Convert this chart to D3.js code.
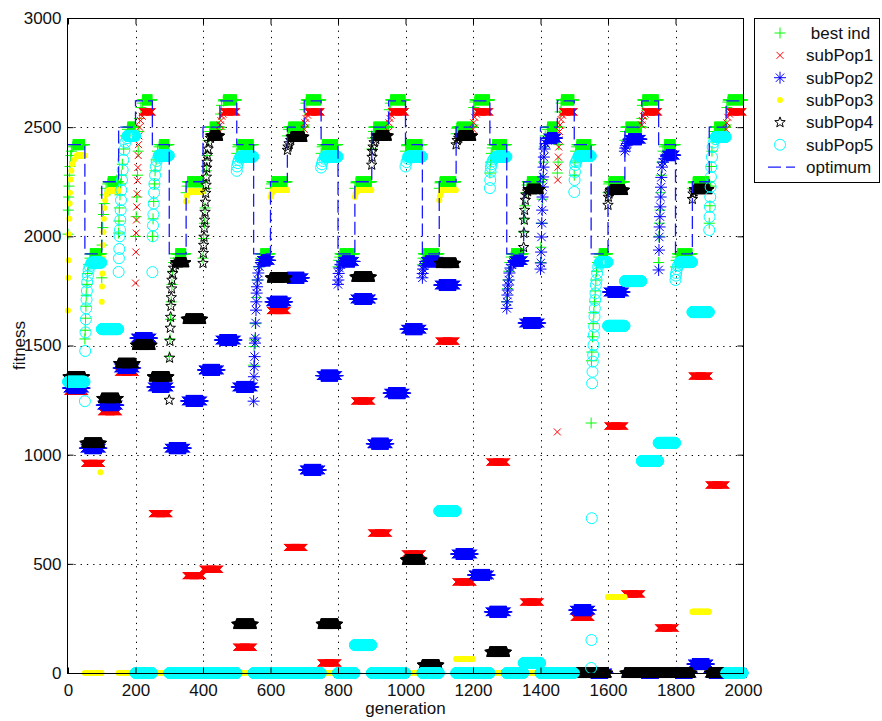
<!DOCTYPE html>
<html>
<head>
<meta charset="utf-8">
<script src="https://cdn.jsdelivr.net/npm/d3@7"></script>
<style>
  body { margin: 0; background: #fff; }
  text { font-family: "Liberation Sans", Arial, sans-serif; fill: #111; }
</style>
</head>
<body>
<div id="chart"></div>
<script>
// one entry per period of 50 generations
const periods = [0,50,100,150,200,250,300,350,400,450,500,550,600,650,700,750,800,850,900,950,
  1000,1050,1100,1150,1200,1250,1300,1350,1400,1450,1500,1550,1600,1650,1700,1750,1800,1850,1900,1950];

const optimum = [2420,1920,2250,2500,2620, 2420,1920,2250,2500,2620, 2420,1920,2250,2500,2620, 2420,1920,2250,2500,2620,
  2420,1920,2250,2500,2620, 2420,1920,2250,2500,2620, 2420,1920,2250,2500,2620, 2420,1920,2250,2500,2620];

// level each series settles at in every period
const bestLevel = [2420,1920,2250,2500,2625, 2420,1920,2250,2500,2625, 2420,1920,2250,2500,2625, 2420,1920,2250,2500,2625,
  2420,1920,2250,2500,2625, 2420,1920,2250,2500,2625, 2420,1920,2250,2500,2625, 2420,1920,2250,2500,2625];
const subPop1Level = [1290,960,1197,1378,2570, 730,0,446,475,2570, 118,0,1660,575,2570, 46,0,1246,641,2570,
  545,0,1520,417,2570, 966,0,325,0,2570, 255,0,1131,362,2570, 206,0,1360,861,2570];
const subPop2Level = [1305,1030,1227,1397,1534, 1310,1030,1246,1388,1525, 1310,1890,1700,1810,930, 1362,1885,1713,1050,1282,
  1575,1885,1777,545,449, 280,1888,1603,2450,0, 288,0,1745,2445,0, 2372,0,41,0,0];
const subPop3Level = [2370,0,2210,0,0, 0,0,2205,0,0, 0,0,2212,0,0, 0,0,2212,0,0,
  0,0,2212,64,0, 0,0,0,0,0, 0,0,348,0,0, 0,0,281,0,0];
const subPop4Level = [1357,1053,1258,1418,1502, 1357,1880,1621,2460,0, 224,0,1810,2455,0, 224,0,1814,2460,0,
  518,37,1877,2460,0, 96,0,2215,0,0, 0,0,2212,0,0, 0,0,2215,0,0];
const subPop5Level = [1334,1880,1575,2460,0, 2370,0,0,0,0, 2365,0,0,0,0, 2365,0,128,0,0,
  2365,0,742,0,0, 2365,0,46,0,0, 2368,1882,1590,1795,971, 1054,1882,1653,2455,0];

const bestClimb = [
  [0,2010],[1,2120],[2,2180],[3,2230],[4,2280],[6,2320],[8,2370],[10,2390],[14,2410],
  [50,1530],[51,1570],[52,1625],[53,1680],[54,1730],[56,1780],[58,1830],[61,1870],[65,1900],
  [100,1810],[101,1960],[103,2040],[105,2100],[107,2150],[110,2190],[113,2220],[118,2240],
  [150,2015],[151,2070],[152,2130],[154,2190],[156,2240],[158,2280],[161,2330],[165,2400],[170,2460],[176,2490],
  [200,2000],[202,2090],[204,2180],[206,2280],[208,2390],[210,2480],[212,2540],[216,2590],[220,2610],
  [250,2000],[252,2080],[254,2160],[256,2240],[258,2300],[261,2350],[265,2390],[270,2410],
  [300,1450],[302,1530],[304,1620],[306,1700],[308,1780],[310,1840],[313,1880],[318,1900],
  [350,2200],[353,2230],
  [400,1900],[402,1990],[404,2060],[406,2130],[408,2220],[410,2300],[412,2370],[415,2440],[420,2480],
  [450,2490],[452,2560],[455,2600],[460,2620],
  [500,2380],[503,2410],
  [550,1410],[551,1495],[552,1525],[555,1600],[558,1720],[561,1800],[565,1860],[570,1900],
  [600,2220],[603,2240],
  [650,2460],[653,2490],
  [700,2510],[702,2580],[705,2610],
  [750,2380],[753,2410],
  [800,1860],[802,1890],[805,1905],
  [850,2220],[853,2245],
  [900,2400],[902,2450],[905,2480],
  [950,2500],[952,2580],[955,2610],
  [1000,2390],[1003,2415],
  [1050,1870],[1052,1900],
  [1100,2220],[1102,2245],
  [1150,2470],[1152,2495],
  [1200,2510],[1202,2590],[1205,2615],
  [1250,2290],[1252,2340],[1254,2380],[1257,2405],
  [1300,1700],[1302,1760],[1304,1800],[1306,1840],[1309,1880],[1313,1905],
  [1350,2020],[1352,2080],[1354,2140],[1357,2200],[1360,2235],
  [1400,1880],[1401,1950],[1403,2060],[1405,2170],[1407,2260],[1409,2340],[1411,2410],[1414,2460],[1420,2490],
  [1450,2290],[1452,2340],[1454,2420],[1456,2500],[1458,2570],[1461,2610],
  [1500,2280],[1502,2340],[1504,2390],[1507,2410],
  [1550,1145],[1551,1430],[1552,1470],[1554,1540],[1556,1600],[1558,1650],[1560,1700],[1562,1750],[1564,1800],[1566,1840],[1569,1880],[1573,1905],
  [1600,2200],[1602,2240],
  [1650,2440],[1652,2480],
  [1700,2540],[1702,2600],
  [1750,1880],[1751,2000],[1752,2060],[1754,2120],[1756,2200],[1758,2280],[1760,2340],[1763,2390],[1767,2410],
  [1800,1860],[1802,1890],[1805,1905],
  [1850,2220],[1852,2245],
  [1900,2060],[1902,2140],[1904,2230],[1906,2320],[1908,2390],[1911,2450],[1915,2480],
  [1950,2510],[1952,2590],[1955,2615]
];
const subPop1Climb = [
  [200,1786],[201,1928],[202,2015],[203,2075],[204,2135],[205,2195],[206,2255],[207,2315],[208,2370],[209,2420],[210,2460],[212,2500],[215,2530],[220,2550],
  [450,2480],[451,2510],[453,2530],[456,2550],[460,2560],
  [700,2490],[702,2520],[705,2540],[710,2555],
  [950,2480],[951,2520],[954,2540],[958,2555],
  [1200,2490],[1202,2520],[1205,2545],[1210,2560],
  [1450,1104],[1451,2258],[1452,2317],[1453,2363],[1454,2409],[1455,2441],[1456,2480],[1458,2510],[1461,2535],[1465,2555],
  [1700,2510],[1702,2530],[1705,2550],[1710,2560],
  [1950,2490],[1952,2520],[1955,2545],[1960,2560]
];
const subPop2Climb = [
  [550,1245],[551,1357],[552,1403],[553,1449],[554,1511],[555,1534],[556,1603],[557,1662],[558,1700],[559,1740],[560,1769],[562,1800],[564,1832],[567,1861],[572,1880],
  [800,1780],[801,1800],[802,1830],[804,1855],[807,1870],[812,1878],
  [1050,1810],[1051,1830],[1052,1850],[1054,1865],[1058,1875],
  [1300,1670],[1301,1700],[1302,1731],[1303,1754],[1304,1777],[1306,1800],[1308,1832],[1311,1855],[1315,1870],[1320,1880],
  [1400,1850],[1401,1878],[1402,1928],[1403,1997],[1404,2060],[1405,2120],[1406,2180],[1407,2226],[1408,2272],[1409,2317],[1410,2363],[1412,2400],[1415,2425],[1420,2440],
  [1650,2390],[1651,2404],[1653,2415],[1656,2425],[1660,2435],
  [1750,1846],[1751,1937],[1752,1997],[1753,2043],[1754,2090],[1755,2135],[1756,2180],[1757,2225],[1758,2270],[1760,2317],[1763,2340],[1767,2355],[1772,2365]
];
const subPop3Climb = [
  [0,1660],[1,1810],[2,1890],[3,2010],[4,2080],[5,2150],[6,2200],[8,2260],[10,2300],[13,2330],[18,2350],[25,2365],
  [100,1700],[101,1770],[102,1830],[103,1900],[104,1960],[105,2020],[106,2080],[108,2130],[110,2165],[113,2190],[118,2205],
  [350,2160],[352,2185],[355,2195],
  [600,2180],[603,2195],[607,2205],
  [850,2180],[852,2195],[856,2205],
  [1100,2165],[1102,2185],[1105,2200]
];
const subPop3Stray = [[96,920]];
const subPop4Climb = [
  [300,1250],[301,1443],[302,1520],[303,1580],[304,1630],[305,1680],[306,1720],[307,1760],[308,1800],[310,1830],[313,1855],[318,1870],
  [400,1877],[401,1923],[402,1960],[403,1997],[404,2038],[405,2075],[406,2111],[407,2157],[408,2198],[409,2235],[410,2272],[411,2313],[412,2340],[413,2372],[415,2400],[418,2430],[422,2450],
  [650,2395],[652,2410],[655,2425],[660,2440],
  [900,2327],[901,2363],[902,2390],[904,2410],[907,2430],[912,2445],
  [1150,2420],[1153,2440],[1158,2450],
  [1350,1950],[1351,2015],[1352,2075],[1353,2120],[1355,2166],[1357,2190],[1362,2205],
  [1600,2143],[1601,2180],[1603,2195],[1606,2205],
  [1850,2170],[1852,2195],[1855,2205]
];
const subPop5Climb = [
  [50,1245],[51,1475],[52,1560],[53,1620],[54,1670],[55,1710],[56,1750],[57,1790],[59,1820],[61,1845],[64,1862],[69,1875],
  [150,1837],[151,1900],[152,1942],[153,2000],[154,2030],[155,2075],[156,2120],[157,2166],[158,2212],[160,2258],[162,2304],[164,2350],[167,2396],[170,2430],[175,2450],
  [250,1836],[251,2000],[252,2050],[253,2100],[254,2150],[255,2200],[256,2240],[258,2280],[260,2320],[263,2345],[268,2360],
  [500,2300],[501,2320],[503,2335],[506,2350],[510,2360],
  [750,2315],[752,2330],[755,2345],[760,2355],
  [1000,2320],[1003,2340],[1007,2355],
  [1250,2221],[1251,2258],[1252,2295],[1253,2317],[1255,2330],[1258,2345],[1262,2355],[1268,2362],
  [1500,2203],[1501,2258],[1502,2295],[1503,2327],[1505,2340],[1508,2350],[1512,2360],
  [1550,23],[1551,151],[1552,709],[1553,1327],[1554,1380],[1555,1426],[1556,1456],[1557,1502],[1558,1548],[1559,1586],[1560,1632],[1561,1670],[1562,1708],[1563,1739],[1564,1777],[1566,1800],[1568,1831],[1571,1861],[1575,1875],
  [1800,1800],[1801,1820],[1802,1832],[1804,1850],[1807,1865],[1812,1875],
  [1900,2029],[1901,2089],[1902,2135],[1903,2180],[1904,2226],[1905,2272],[1906,2317],[1908,2363],[1910,2409],[1913,2430],[1918,2445]
];

const xTicks = [0,200,400,600,800,1000,1200,1400,1600,1800,2000];
const yTicks = [0,500,1000,1500,2000,2500,3000];

const svgWidth = 882, svgHeight = 721;
const plotLeft = 68, plotRight = 743, plotTop = 18, plotBottom = 673;

const svg = d3.select("#chart").append("svg")
  .attr("width", svgWidth).attr("height", svgHeight)
  .style("display", "block");

const x = d3.scaleLinear().domain([0, 2000]).range([plotLeft, plotRight]);
const y = d3.scaleLinear().domain([0, 3000]).range([plotBottom, plotTop]);

// marker shapes, MATLAB style
function plus(s) { return `M${-s},0H${s}M0,${-s}V${s}`; }
function cross(s) { return `M${-s},${-s}L${s},${s}M${-s},${s}L${s},${-s}`; }
function star(r) {
  let d = "";
  for (let i = 0; i < 10; i++) {
    const a = -Math.PI / 2 + i * Math.PI / 5;
    const rr = i % 2 ? r * 0.42 : r;
    d += (i ? "L" : "M") + (rr * Math.cos(a)).toFixed(2) + "," + (rr * Math.sin(a)).toFixed(2);
  }
  return d + "Z";
}
const circle = d3.symbol(d3.symbolCircle, Math.PI * 5.5 * 5.5)();
const dot = d3.symbol(d3.symbolCircle, Math.PI * 3 * 3)();

const series = [
  { name: " best ind", level: bestLevel, climb: bestClimb, stray: [], d: plus(5.5), stroke: "#00ff00", fill: "none" },
  { name: "subPop1", level: subPop1Level, climb: subPop1Climb, stray: [], d: cross(3.5), stroke: "#ff0000", fill: "none" },
  { name: "subPop2", level: subPop2Level, climb: subPop2Climb, stray: [], d: plus(6) + cross(4.2), stroke: "#0000ff", fill: "none" },
  { name: "subPop3", level: subPop3Level, climb: subPop3Climb, stray: subPop3Stray, d: dot, stroke: "none", fill: "#ffff00" },
  { name: "subPop4", level: subPop4Level, climb: subPop4Climb, stray: [], d: star(5.5), stroke: "#000000", fill: "none" },
  { name: "subPop5", level: subPop5Level, climb: subPop5Climb, stray: [], d: circle, stroke: "#00ffff", fill: "none" }
];

// every generation of a period: climb points first, then the settled level
function points(s) {
  const pts = [];
  periods.forEach((start, k) => {
    const end = start + 50;
    const c = s.climb.filter(p => p[0] >= start && p[0] < end);
    c.forEach(p => pts.push(p));
    const from = c.length ? d3.max(c, p => p[0]) + 1 : start;
    for (let g = from; g < end; g++) pts.push([g, s.level[k]]);
  });
  s.stray.forEach(p => pts.push(p));
  return pts;
}

// grid
const grid = svg.append("g").attr("stroke", "#000").attr("stroke-width", 1)
  .attr("stroke-dasharray", "1.3,5");
grid.selectAll(".gx").data(xTicks.slice(1, -1)).join("line")
  .attr("x1", d => Math.round(x(d)) + 0.5).attr("x2", d => Math.round(x(d)) + 0.5)
  .attr("y1", plotTop).attr("y2", plotBottom);
grid.selectAll(".gy").data(yTicks.slice(1, -1)).join("line")
  .attr("y1", d => Math.round(y(d)) + 0.5).attr("y2", d => Math.round(y(d)) + 0.5)
  .attr("x1", plotLeft).attr("x2", plotRight);

// markers
series.forEach(s => {
  svg.append("g")
    .attr("fill", s.fill).attr("stroke", s.stroke).attr("stroke-width", 1)
    .selectAll("path").data(points(s)).join("path")
    .attr("transform", d => `translate(${x(d[0]).toFixed(2)},${y(d[1]).toFixed(2)})`)
    .attr("d", s.d);
});

// optimum as a step line
const optPts = periods.map((p, i) => [p, optimum[i]]).concat([[2000, optimum[optimum.length - 1]]]);
svg.append("path")
  .datum(optPts)
  .attr("fill", "none").attr("stroke", "#1a1aff").attr("stroke-width", 1.3)
  .attr("stroke-dasharray", "13,5")
  .attr("d", d3.line().x(d => x(d[0])).y(d => y(d[1])).curve(d3.curveStepAfter));

// axes box and ticks
svg.append("rect")
  .attr("x", plotLeft - 0.5).attr("y", plotTop + 0.5).attr("width", plotRight - plotLeft + 1).attr("height", plotBottom - plotTop)
  .attr("fill", "none").attr("stroke", "#000").attr("stroke-width", 1);

function styleAxis(g) {
  g.select(".domain").remove();
  g.selectAll("text").attr("font-size", 17).attr("fill", "#111")
    .attr("font-family", '"Liberation Sans", Arial, sans-serif');
  g.selectAll("line").attr("stroke", "#000");
}
svg.append("g").attr("transform", `translate(0,${plotBottom + 0.5})`)
  .call(d3.axisBottom(x).tickValues(xTicks).tickSizeInner(-6).tickSizeOuter(0).tickPadding(10).tickFormat(d3.format("d")))
  .call(styleAxis);
svg.append("g").attr("transform", `translate(0,${plotTop + 0.5})`)
  .call(d3.axisTop(x).tickValues(xTicks).tickSizeInner(-6).tickSizeOuter(0).tickFormat(""))
  .call(styleAxis);
svg.append("g").attr("transform", `translate(${plotLeft - 0.5},0)`)
  .call(d3.axisLeft(y).tickValues(yTicks).tickSizeInner(-6).tickSizeOuter(0).tickPadding(6).tickFormat(d3.format("d")))
  .call(styleAxis);
svg.append("g").attr("transform", `translate(${plotRight + 0.5},0)`)
  .call(d3.axisRight(y).tickValues(yTicks).tickSizeInner(-6).tickSizeOuter(0).tickFormat(""))
  .call(styleAxis);

svg.append("text").attr("x", (plotLeft + plotRight) / 2).attr("y", 714)
  .attr("text-anchor", "middle").attr("font-size", 17).text("generation");
svg.append("text").attr("transform", `translate(25,${(plotTop + plotBottom) / 2}) rotate(-90)`)
  .attr("text-anchor", "middle").attr("font-size", 17).text("fitness");

// legend
const legend = svg.append("g");
legend.append("rect").attr("x", 754.5).attr("y", 18.5).attr("width", 125).attr("height", 164)
  .attr("fill", "#fff").attr("stroke", "#000").attr("stroke-width", 1);
const rowY = i => 33 + i * 22.35;
series.forEach((s, i) => {
  legend.append("path").attr("transform", `translate(780,${rowY(i)})`)
    .attr("d", s.d).attr("fill", s.fill).attr("stroke", s.stroke).attr("stroke-width", 1);
  legend.append("text").attr("x", 806).attr("y", rowY(i) + 6).attr("font-size", 17)
    .style("white-space", "pre").text(s.name);
});
legend.append("line").attr("x1", 768).attr("x2", 795).attr("y1", rowY(6)).attr("y2", rowY(6))
  .attr("stroke", "#1a1aff").attr("stroke-width", 1.3).attr("stroke-dasharray", "13,5");
legend.append("text").attr("x", 806).attr("y", rowY(6) + 6).attr("font-size", 17).text("optimum");
</script>
</body>
</html>
